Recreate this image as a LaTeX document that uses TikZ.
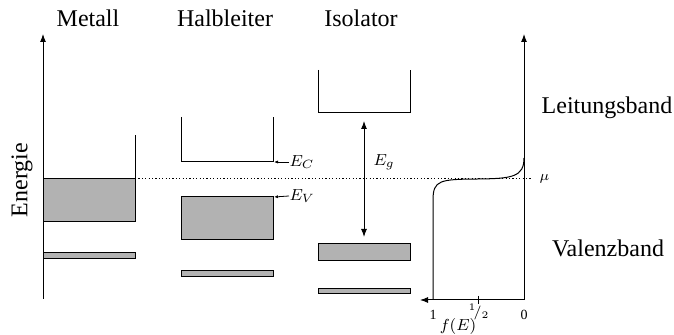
\documentclass[tikz,border=0pt]{standalone}
\usepackage{fontspec}
\setmainfont{Liberation Serif}
\usetikzlibrary{arrows.meta}

\begin{document}
\begin{tikzpicture}[x=0.5pt,y=-0.5pt,
  line width=0.5pt,
  band/.style={draw,fill=black!30},
  ax/.style={-{Latex[length=4pt,width=3pt]}},
  lvl/.style={-{Latex[length=2pt,width=1.6pt]},line width=0.4pt},
  title/.style={font=\large},
  small/.style={font=\footnotesize,inner sep=0pt}]
\useasboundingbox (0,0) rectangle (674,335);
% titles
\node[title] (tmet) at (88,18) {Metall};
\node[title] (thal) at (225,18) {Halbleiter};
\node[title] (tiso) at (361,18) {Isolator};
\node[title] (tlb) at (607,108) {Leitungsband};
\node[title] (tvb) at (608,248) {Valenzband};
\node[title,rotate=90] (ten) at (22,180) {Energie};
% Fermi level
\draw[dash pattern=on 0.6pt off 1.1pt] (135,179) -- (532,179);
\node[small,font=\scriptsize,anchor=west] (mu) at (539,179) {$\mu$};
% metal
\draw[ax] (43,299) -- (43,34);
\draw[band] (43,179) rectangle (135,222);
\draw (135,179) -- (135,135);
\draw[band] (43,253) rectangle (135,259);
% semiconductor
\draw (181,117) -- (181,162) -- (273,162) -- (273,117);
\draw[band] (181,197) rectangle (273,240);
\draw[band] (181,271) rectangle (273,277);
\coordinate (ec) at (274,162);
\coordinate (ev) at (274,197);
\node[small,anchor=west] (lec) at (289,162) {$E_C$};
\node[small,anchor=west] (lev) at (289,196) {$E_V$};
\draw[lvl] (lec.west) -- (ec);
\draw[lvl] (lev.west) -- (ev);
% insulator
\draw (318,70) -- (318,113) -- (410,113) -- (410,70);
\draw[band] (318,244) rectangle (410,261);
\draw[band] (318,289) rectangle (410,294);
\coordinate (gtop) at (364,121);
\coordinate (gbot) at (364,237);
\draw[{Latex[length=4pt,width=3pt]}-{Latex[length=4pt,width=3pt]}] (gtop) -- (gbot);
\node[small,anchor=west] (leg) at (373,162) {$E_g$};
% Fermi function
\draw[ax] (524,300) -- (524,34);
\draw[ax] (524,300) -- (420,300);
\draw (478,296) -- (478,304);
\draw (433,300) -- (433,200)
  .. controls (433,180) and (440,179.3) .. (478,179)
  .. controls (512,178.6) and (524,177) .. (524,158);
\node[small,font=\scriptsize] (f1) at (433,315) {1};
\node[small,font=\scriptsize] (fh) at (479,312) {$^1\!/_2$};
\node[small,font=\scriptsize] (f0) at (524,315) {0};
\node[small] (fe) at (458,327) {$f(E)$};
\end{tikzpicture}
\end{document}
